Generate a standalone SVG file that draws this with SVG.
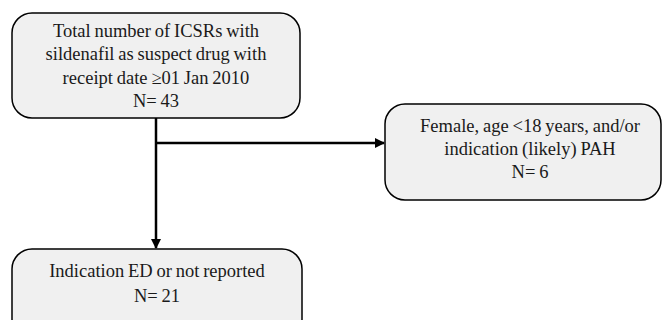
<svg xmlns="http://www.w3.org/2000/svg" width="663" height="320" viewBox="0 0 663 320">
<style>
.box{fill:#f0f0f0;stroke:#000;stroke-width:1.5}
.t{font-family:"Liberation Serif","Times New Roman",serif;font-size:18.5px;word-spacing:-0.8px;fill:#1a1a1a;text-anchor:middle}
.c{stroke:#000;stroke-width:2.5;fill:none}
</style>
<defs>
<marker id="ah" markerWidth="10" markerHeight="10" refX="9" refY="5" orient="auto" markerUnits="userSpaceOnUse">
<path d="M0,0 L10,5 L0,10 Z" fill="#000"/>
</marker>
</defs>
<rect width="663" height="320" fill="#fff"/>
<g id="connectors">
<line class="c" x1="156" y1="118" x2="156" y2="248" marker-end="url(#ah)"/>
<line class="c" x1="156" y1="143" x2="384" y2="143" marker-end="url(#ah)"/>
</g>
<g id="total">
<rect class="box" x="12" y="13" width="288" height="105" rx="20"/>
<text class="t" x="156" y="37">Total number of ICSRs with</text>
<text class="t" x="156" y="60">sildenafil as suspect drug with</text>
<text class="t" x="156" y="84">receipt date ≥01 Jan 2010</text>
<text class="t" x="156" y="107">N= 43</text>
</g>
<g id="female">
<rect class="box" x="385" y="104" width="276" height="96" rx="20"/>
<text class="t" x="530" y="132">Female, age &lt;18 years, and/or</text>
<text class="t" x="530" y="155">indication (likely) PAH</text>
<text class="t" x="530" y="178">N= 6</text>
</g>
<g id="indication">
<rect class="box" x="12" y="249" width="290" height="90" rx="20"/>
<text class="t" x="157" y="277">Indication ED or not reported</text>
<text class="t" x="157" y="302">N= 21</text>
</g>
</svg>
